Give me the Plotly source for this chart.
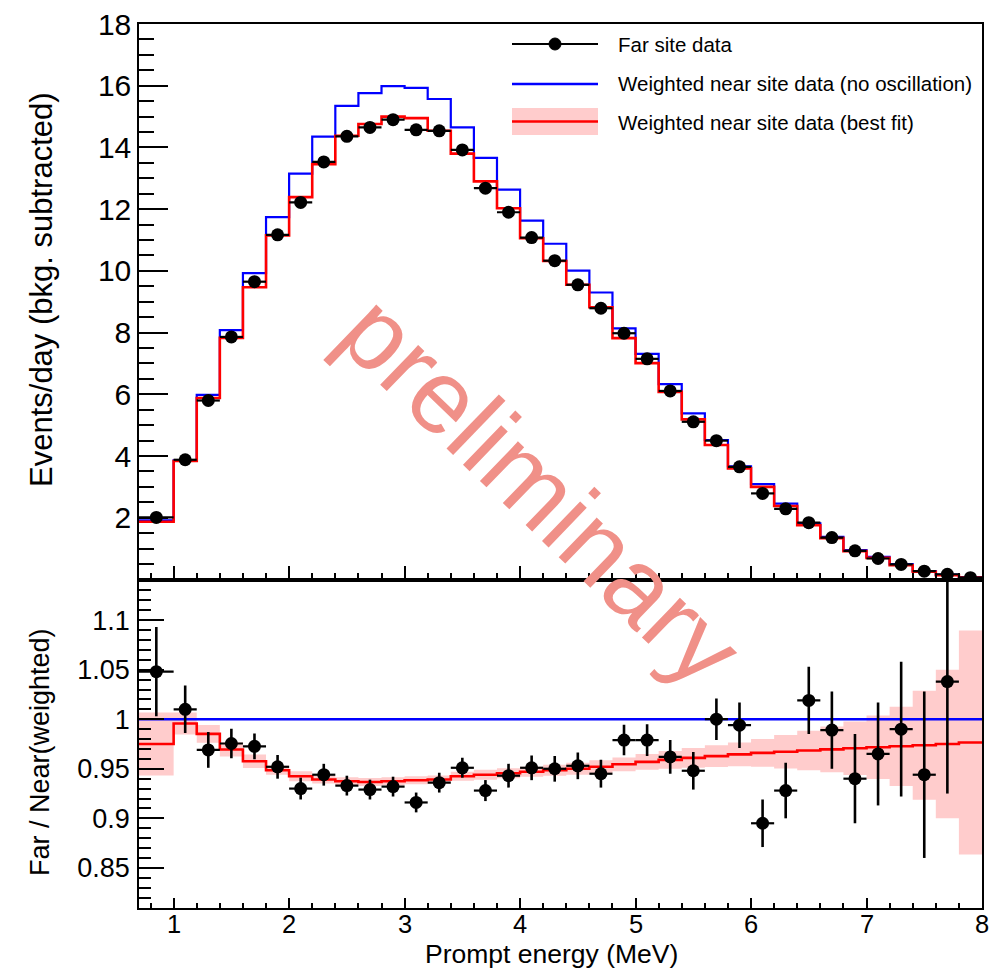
import plotly.graph_objects as go

# Binning: one wide bin 0.7-1.0 MeV, then 0.2 MeV bins up to 8 MeV
bin_edges = [0.7] + [round(1.0 + 0.2 * i, 1) for i in range(36)]
bin_centers = [round((a + b) / 2, 3) for a, b in zip(bin_edges[:-1], bin_edges[1:])]
bin_half = [round((b - a) / 2, 3) for a, b in zip(bin_edges[:-1], bin_edges[1:])]

# Far site data (events/day, background subtracted)
far_data = [2.01, 3.88, 5.80, 7.86, 9.65, 11.17, 12.22, 13.53, 14.36, 14.65, 14.90, 14.57,
            14.54, 13.92, 12.68, 11.90, 11.08, 10.33, 9.55, 8.79, 7.98, 7.15, 6.11, 5.11,
            4.50, 3.65, 2.79, 2.29, 1.84, 1.36, 0.93, 0.68, 0.49, 0.27, 0.17, 0.06]

# Weighted near site prediction, no oscillation
near_noosc = [1.92, 3.86, 5.98, 8.08, 9.93, 11.74, 13.15, 14.35, 15.35, 15.76, 15.99, 15.93,
              15.57, 14.65, 13.66, 12.63, 11.63, 10.88, 10.01, 9.30, 8.14, 7.31, 6.33, 5.38,
              4.52, 3.67, 3.09, 2.46, 1.82, 1.38, 0.95, 0.73, 0.50, 0.27, 0.16, 0.08]

# Weighted near site prediction, best-fit oscillation
near_bestfit = [1.87, 3.84, 5.88, 7.83, 9.47, 11.15, 12.39, 13.46, 14.38, 14.76, 15.00, 14.95,
                14.54, 13.80, 12.90, 12.03, 11.06, 10.32, 9.55, 8.82, 7.82, 7.01, 6.08, 5.19,
                4.36, 3.60, 3.00, 2.38, 1.76, 1.34, 0.92, 0.70, 0.46, 0.25, 0.14, 0.06]

# Far / Near(weighted) ratio of the data, with statistical errors
ratio_data = [1.048, 1.010, 0.969, 0.9755, 0.9727, 0.952, 0.930, 0.944, 0.933, 0.929, 0.932, 0.916,
              0.936, 0.951, 0.928, 0.943, 0.951, 0.950, 0.953, 0.945, 0.979, 0.979, 0.962, 0.948,
              1.000, 0.994, 0.895, 0.928, 1.019, 0.989, 0.940, 0.965, 0.990, 0.944, 1.038, None]
ratio_err = [0.045, 0.024, 0.018, 0.015, 0.013, 0.012, 0.011, 0.011, 0.010, 0.010, 0.010, 0.010,
             0.010, 0.010, 0.0106, 0.012, 0.0125, 0.013, 0.0135, 0.014, 0.0154, 0.016, 0.017, 0.019,
             0.021, 0.023, 0.024, 0.028, 0.034, 0.039, 0.045, 0.052, 0.068, 0.084, 0.113, None]

# Best-fit ratio and its uncertainty band (half width)
ratio_fit = [0.9750, 0.9957, 0.9852, 0.9694, 0.9576, 0.9485, 0.9424, 0.9391, 0.9374, 0.9367, 0.9374, 0.9384,
             0.9391, 0.9424, 0.9440, 0.9455, 0.9470, 0.9485, 0.9500, 0.9520, 0.9545, 0.9570, 0.9590, 0.9610,
             0.9628, 0.9645, 0.9660, 0.9672, 0.9684, 0.9696, 0.9707, 0.9717, 0.9727, 0.9737, 0.9750, 0.9765]
ratio_fit_err = [0.0317, 0.011, 0.009, 0.007, 0.0067, 0.0045, 0.005, 0.004, 0.004, 0.004, 0.004, 0.004,
                 0.004, 0.0045, 0.005, 0.005, 0.005, 0.0055, 0.006, 0.0065, 0.007, 0.008, 0.009, 0.010,
                 0.011, 0.012, 0.014, 0.017, 0.020, 0.023, 0.027, 0.032, 0.040, 0.055, 0.075, 0.113]

# No-oscillation reference in the ratio panel
ratio_noosc = [1.0] * 36

x_ticks = [1, 2, 3, 4, 5, 6, 7, 8]
y_ticks_top = [2, 4, 6, 8, 10, 12, 14, 16, 18]
y_ticks_bot = [0.85, 0.9, 0.95, 1.0, 1.05, 1.1]
y_ticktext_bot = ["0.85", "0.9", "0.95", "1", "1.05", "1.1"]

FONT = "Liberation Sans, Arial, Helvetica, sans-serif"
W, H = 992, 970
ML, MR, MT, MB = 139, 10, 24, 62
PW, PH = W - ML - MR, H - MT - MB
split = (908 - 579.5) / PH


def px(xp):
    return (xp - ML) / PW


def py(yp):
    return (H - MB - yp) / PH


def step(vals):
    return bin_edges, list(vals) + [vals[-1]]


fig = go.Figure()

# ---- upper panel: spectra ----
sx, sy = step(near_noosc)
fig.add_trace(go.Scatter(x=sx, y=sy, mode="lines", line=dict(color="#0000ff", width=2.2, shape="hv"),
                         xaxis="x", yaxis="y", showlegend=False, hoverinfo="skip"))
sx, sy = step(near_bestfit)
fig.add_trace(go.Scatter(x=sx, y=sy, mode="lines", line=dict(color="#ff0000", width=2.6, shape="hv"),
                         xaxis="x", yaxis="y", showlegend=False, hoverinfo="skip"))
fig.add_trace(go.Scatter(x=bin_centers, y=far_data, mode="markers",
                         marker=dict(color="black", size=13),
                         error_x=dict(type="data", array=bin_half, width=0, thickness=2.2, color="black"),
                         xaxis="x", yaxis="y", showlegend=False))

# ---- lower panel: ratios ----
lo = [c - e for c, e in zip(ratio_fit, ratio_fit_err)]
hi = [c + e for c, e in zip(ratio_fit, ratio_fit_err)]
sx, sy = step(lo)
fig.add_trace(go.Scatter(x=sx, y=sy, mode="lines", line=dict(width=0, shape="hv"),
                         xaxis="x2", yaxis="y2", showlegend=False, hoverinfo="skip"))
sx, sy = step(hi)
fig.add_trace(go.Scatter(x=sx, y=sy, mode="lines", line=dict(width=0, shape="hv"),
                         fill="tonexty", fillcolor="#ffcccc",
                         xaxis="x2", yaxis="y2", showlegend=False, hoverinfo="skip"))
sx, sy = step(ratio_fit)
fig.add_trace(go.Scatter(x=sx, y=sy, mode="lines", line=dict(color="#ff0000", width=2.6, shape="hv"),
                         xaxis="x2", yaxis="y2", showlegend=False, hoverinfo="skip"))
sx, sy = step(ratio_noosc)
fig.add_trace(go.Scatter(x=sx, y=sy, mode="lines", line=dict(color="#0000ff", width=2.6, shape="hv"),
                         xaxis="x2", yaxis="y2", showlegend=False, hoverinfo="skip"))
fig.add_trace(go.Scatter(x=bin_centers, y=ratio_data, mode="markers",
                         marker=dict(color="black", size=13),
                         error_x=dict(type="data", array=bin_half, width=0, thickness=2.2, color="black"),
                         error_y=dict(type="data", array=ratio_err, width=0, thickness=2.6, color="black"),
                         cliponaxis=False,
                         xaxis="x2", yaxis="y2", showlegend=False))

axis_common = dict(showgrid=False, zeroline=False, showline=True, linecolor="black", linewidth=1.5,
                   mirror=True, ticks="inside", tickcolor="black", tickwidth=1.5, automargin=False)

fig.update_layout(
    width=W, height=H,
    margin=dict(l=ML, r=MR, t=MT, b=MB, autoexpand=False),
    paper_bgcolor="white", plot_bgcolor="white",
    font=dict(family=FONT, color="black"),
    xaxis=dict(domain=[0, 1], anchor="y", range=[0.7, 8.0], tickvals=x_ticks, ticklen=14,
               showticklabels=False,
               minor=dict(ticks="inside", ticklen=7, tickmode="linear", tick0=0, dtick=0.2,
                          tickcolor="black", tickwidth=1.5),
               **axis_common),
    yaxis=dict(domain=[split, 1], anchor="x", range=[0, 18], tickvals=y_ticks_top, ticklen=29,
               tickfont=dict(size=30), ticklabelstandoff=0,
               minor=dict(ticks="inside", ticklen=15, tickmode="linear", tick0=0, dtick=0.5,
                          tickcolor="black", tickwidth=1.5),
               **axis_common),
    # energy labels of the lower axis are placed as annotations just below the frame
    xaxis2=dict(domain=[0, 1], anchor="y2", range=[0.7, 8.0], tickvals=x_ticks, ticklen=10,
                showticklabels=False,
                minor=dict(ticks="inside", ticklen=5, tickmode="linear", tick0=0, dtick=0.2,
                           tickcolor="black", tickwidth=1.5),
                **axis_common),
    yaxis2=dict(domain=[0, split], anchor="x2", range=[0.8095, 1.141], tickvals=y_ticks_bot,
                ticktext=y_ticktext_bot, ticklen=25, tickfont=dict(size=27), ticklabelstandoff=2,
                minor=dict(ticks="inside", ticklen=12, tickmode="linear", tick0=0.8, dtick=0.01,
                           tickcolor="black", tickwidth=1.5),
                **axis_common),
)

annotations = [
    dict(text="Events/day (bkg. subtracted)", x=px(41), y=py(290), textangle=-90,
         font=dict(size=31)),
    dict(text="Far / Near(weighted)", x=px(40), y=py(752), textangle=-90, font=dict(size=27)),
    dict(text="Prompt energy (MeV)", x=px(551), y=py(954), font=dict(size=26.5)),
    dict(text="preliminary", x=px(541), y=py(490), textangle=44,
         font=dict(size=104, color="rgb(240,144,136)")),
    dict(text="Far site data", x=px(616), y=py(44), xanchor="left", font=dict(size=20.5)),
    dict(text="Weighted near site data (no oscillation)", x=px(616), y=py(84), xanchor="left",
         font=dict(size=20.5)),
    dict(text="Weighted near site data (best fit)", x=px(616), y=py(122), xanchor="left",
         font=dict(size=20.5)),
]
for a in annotations:
    a.setdefault("xanchor", "center")
    a.update(xref="paper", yref="paper", yanchor="middle", showarrow=False)

for t in x_ticks:
    annotations.append(dict(text=str(t), x=t, xref="x2", y=py(924), yref="paper",
                            xanchor="center", yanchor="middle", showarrow=False,
                            font=dict(size=25.5)))
fig.update_layout(annotations=annotations)

# legend key symbols
shapes = [
    dict(type="rect", x0=px(512), x1=px(598), y0=py(108), y1=py(135), fillcolor="#ffcccc",
         line=dict(width=0)),
    dict(type="line", x0=px(512), x1=px(598), y0=py(121.5), y1=py(121.5),
         line=dict(color="#ff0000", width=2.6)),
    dict(type="line", x0=px(512), x1=px(598), y0=py(84), y1=py(84),
         line=dict(color="#0000ff", width=2.6)),
    dict(type="line", x0=px(512), x1=px(598), y0=py(44), y1=py(44),
         line=dict(color="black", width=2.2)),
    dict(type="circle", x0=px(549), x1=px(561), y0=py(38), y1=py(50), fillcolor="black",
         line=dict(color="black", width=1)),
]
for s in shapes:
    s.update(xref="paper", yref="paper", layer="above")
fig.update_layout(shapes=shapes)

fig.write_html("out.html")
